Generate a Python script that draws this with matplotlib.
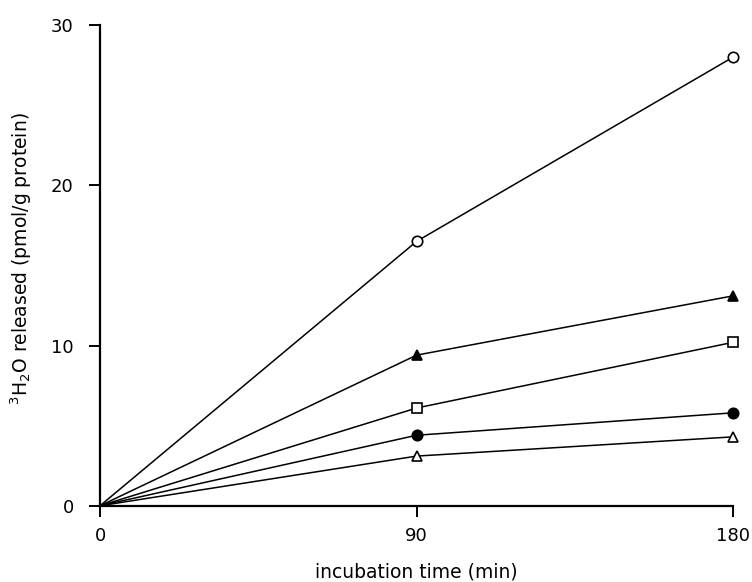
import matplotlib.pyplot as plt

plt.rcParams['font.family'] = ['DejaVu Sans']

# incubation times (min)
time_min = [0, 90, 180]

# 3H2O released (pmol/g protein) for each series
open_circle = [0, 16.5, 28.0]
filled_triangle = [0, 9.4, 13.1]
open_square = [0, 6.1, 10.2]
filled_circle = [0, 4.4, 5.8]
open_triangle = [0, 3.1, 4.3]

x_ticks = [0, 90, 180]
y_ticks = [0, 10, 20, 30]

fig = plt.figure(figsize=(7.52, 5.82), dpi=100)
ax = fig.add_axes([0.133, 0.131, 0.842, 0.826])

series = [
    (open_circle, 'o', 'white'),
    (filled_triangle, '^', 'black'),
    (open_square, 's', 'white'),
    (filled_circle, 'o', 'black'),
    (open_triangle, '^', 'white'),
]
for vals, marker, face in series:
    ax.plot(time_min, vals, '-', color='black', linewidth=1.1)
    ax.plot(time_min[1:], vals[1:], marker, markersize=7.5,
            markerfacecolor=face, markeredgecolor='black',
            markeredgewidth=1.2, linestyle='none', zorder=3, clip_on=False)

ax.set_xlim(0, 180)
ax.set_ylim(0, 30)
ax.set_xticks(x_ticks)
ax.set_yticks(y_ticks)
ax.spines['top'].set_visible(False)
ax.spines['right'].set_visible(False)
ax.spines['left'].set_linewidth(1.6)
ax.spines['bottom'].set_linewidth(1.6)
ax.tick_params(axis='both', direction='out', length=8, width=1.4,
               labelsize=13, pad=7)
ax.tick_params(axis='y', pad=11)

ax.set_xlabel('incubation time (min)', fontsize=13.5, labelpad=13)
ax.set_ylabel('$^{3}$H$_{2}$O released (pmol/g protein)', fontsize=13.5)
ax.yaxis.set_label_coords(-0.105, 0.515)

plt.savefig('out.png', dpi=100)
